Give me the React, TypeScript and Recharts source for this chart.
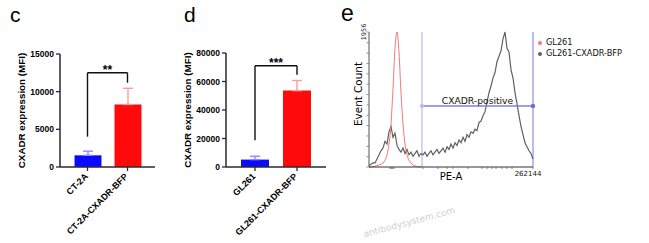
import React from "react"
import {
  BarChart,
  Bar,
  XAxis,
  YAxis,
  ErrorBar,
  ReferenceLine,
  ReferenceDot,
  LineChart,
  Line,
  Legend,
} from "recharts"

const ARIAL = "'Liberation Sans', Arial, Helvetica, sans-serif"
const DEJAVU = "'DejaVu Sans', Verdana, sans-serif"
const AXIS = "#2a2a2a"

// panel c: CT-2A
const ctCategories = ["CT-2A", "CT-2A-CXADR-BFP"]
const ctMeans = [1550, 8300]
const ctErrors = [550, 2150]
const ctTicks = [0, 5000, 10000, 15000]
const ctBracket = { left: 4030, top: 12520, right: 11190 }

// panel d: GL261
const glCategories = ["GL261", "GL261-CXADR-BFP"]
const glMeans = [5200, 53600]
const glErrors = [2350, 7100]
const glTicks = [0, 20000, 40000, 60000, 80000]
const glBracket = { left: 18850, top: 71100, right: 64750 }

const barFills = ["#0a0aff", "#ff0a0a"]
const errColors = ["#8c8cff", "#ff9c9c"]

// panel e: PE-A histogram, event counts per bin
const gl261Counts = [0, 0, 6, 10, 20, 29, 39, 59, 98, 176, 333, 626, 1134, 1721, 1956, 1663, 1076, 626, 333, 176, 98, 59, 29, 16, 8, 4, 0]
const cxadrCounts = [
  20, 39, 59, 59, 117, 176, 235, 274, 372, 333,
  509, 587, 430, 489, 313, 254, 215, 274, 196, 254,
  176, 215, 156, 196, 235, 156, 196, 176, 215, 156,
  196, 235, 176, 215, 254, 196, 235, 274, 215, 293,
  254, 333, 274, 352, 313, 391, 352, 430, 372, 469,
  430, 509, 489, 548, 528, 645, 665, 743, 802, 939,
  1076, 1174, 1291, 1369, 1526, 1604, 1682, 1858, 1956, 1721,
  1663, 1408, 1291, 1076, 919, 743, 587, 469, 352, 293,
  235, 196, 117,
]
const countTicks = [0, 150, 300, 450, 600, 750, 900, 1050, 1200, 1350, 1500, 1650, 1800, 1956]
const peTicks = [10.5, 11, 11.5, 12, 12.5, 27, 34.5, 39, 42, 49.5, 56.5, 59, 61.5, 63.5, 66.5, 69, 71.5, 82]
const peMaxLabel = "262144"
const gate = { start: 26.5, end: 82, level: 884, label: "CXADR-positive" }

function barRows(categories: string[], means: number[], errors: number[]) {
  return categories.map((name, i) => ({
    name,
    v0: i === 0 ? means[i] : null,
    e0: i === 0 ? [0, errors[i]] : null,
    v1: i === 1 ? means[i] : null,
    e1: i === 1 ? [0, errors[i]] : null,
  }))
}

function YTitle({ viewBox, value, dx = 0, dy = 0, size, family, weight }: any) {
  const vb = viewBox ?? { x: 0, y: 0, width: 0, height: 0 }
  const cx = vb.x + dx
  const cy = vb.y + vb.height / 2 + dy
  return (
    <text
      x={cx}
      y={cy}
      transform={`rotate(-90, ${cx}, ${cy})`}
      textAnchor="middle"
      dominantBaseline="central"
      fontSize={size}
      fontFamily={family}
      fontWeight={weight}
      fill="#000"
    >
      {value}
    </text>
  )
}

function XTitle({ viewBox, value, dy = 0, size, family }: any) {
  const vb = viewBox ?? { x: 0, y: 0, width: 0, height: 0 }
  return (
    <text x={vb.x + vb.width / 2} y={vb.y + dy} textAnchor="middle" fontSize={size} fontFamily={family} fill="#000">
      {value}
    </text>
  )
}

function SlantTick({ x, y, payload }: any) {
  const ax = x + 1
  const ay = y + 4
  return (
    <text
      x={ax}
      y={ay}
      transform={`rotate(-45, ${ax}, ${ay})`}
      textAnchor="end"
      fontSize={9}
      fontWeight={700}
      fontFamily={ARIAL}
      fill="#000"
    >
      {payload.value}
    </text>
  )
}

function SigBarPanel({ categories, means, errors, ticks, bracket, stars, left, margin, pad, barSize }: any) {
  const data = barRows(categories, means, errors)
  const top = ticks[ticks.length - 1]
  const line = { stroke: "#111", strokeWidth: 1.4 }
  return (
    <div style={{ position: "absolute", left, top: 0 }}>
      <BarChart width={170} height={243} data={data} margin={margin}>
        <XAxis
          dataKey="name"
          interval={0}
          padding={{ left: pad, right: pad }}
          height={60}
          tickSize={4}
          tick={<SlantTick />}
          tickLine={{ stroke: AXIS, strokeWidth: 1.3 }}
          axisLine={{ stroke: AXIS, strokeWidth: 1.5 }}
        />
        <XAxis xAxisId="b" dataKey="name" hide padding={{ left: pad, right: pad }} />
        <YAxis
          domain={[0, top]}
          ticks={ticks}
          interval={0}
          width={50}
          tickSize={4}
          tickMargin={2}
          tick={{ fontSize: 8.5, fontWeight: 700, fill: "#000", fontFamily: ARIAL }}
          tickLine={{ stroke: AXIS, strokeWidth: 1.3 }}
          axisLine={{ stroke: AXIS, strokeWidth: 1.5 }}
          label={<YTitle value="CXADR expression (MFI)" dx={11} size={9.8} family={ARIAL} weight={700} />}
        />
        <Bar dataKey="v0" barSize={barSize} fill={barFills[0]} isAnimationActive={false}>
          <ErrorBar dataKey="e0" direction="y" width={5} stroke={errColors[0]} strokeWidth={1.4} isAnimationActive={false} />
        </Bar>
        <Bar dataKey="v1" xAxisId="b" barSize={barSize} fill={barFills[1]} isAnimationActive={false}>
          <ErrorBar dataKey="e1" direction="y" width={5} stroke={errColors[1]} strokeWidth={1.4} isAnimationActive={false} />
        </Bar>
        <ReferenceLine
          segment={[{ x: categories[0], y: bracket.left }, { x: categories[0], y: bracket.top }]}
          {...line}
        />
        <ReferenceLine
          segment={[{ x: categories[0], y: bracket.top }, { x: categories[1], y: bracket.top }]}
          {...line}
          label={{ value: stars, position: "top", offset: -1, fontSize: 12, fontWeight: 700, fill: "#000", fontFamily: ARIAL }}
        />
        <ReferenceLine
          segment={[{ x: categories[1], y: bracket.top }, { x: categories[1], y: bracket.right }]}
          {...line}
        />
      </BarChart>
    </div>
  )
}

function CountTick({ x, y, payload }: any) {
  if (payload.value !== countTicks[countTicks.length - 1]) return <g />
  const ax = x + 1.5
  return (
    <text x={ax} y={y} transform={`rotate(-90, ${ax}, ${y})`} textAnchor="middle" fontSize={6.5} fontFamily={DEJAVU} fill="#222">
      {payload.value}
    </text>
  )
}

function PeTick({ x, y, payload }: any) {
  if (payload.value !== peTicks[peTicks.length - 1]) return <g />
  return (
    <text x={x - 5} y={y + 6} textAnchor="middle" fontSize={7} fontFamily={DEJAVU} fill="#111">
      {peMaxLabel}
    </text>
  )
}

function HistogramPanel() {
  const rows = cxadrCounts.map((c, i) => ({
    bin: i,
    cxadr: c,
    gl261: i < gl261Counts.length ? gl261Counts[i] : null,
  }))
  return (
    <div style={{ position: "absolute", left: 340, top: 0 }}>
      <LineChart width={309} height={243} data={rows} margin={{ top: 32, right: 116, bottom: 16, left: 9 }}>
        <XAxis
          dataKey="bin"
          type="number"
          domain={[0, 82]}
          ticks={peTicks}
          interval={0}
          height={60}
          tickSize={2}
          tickMargin={1}
          tick={<PeTick />}
          tickLine={{ stroke: "#666", strokeWidth: 0.8 }}
          axisLine={{ stroke: "#333", strokeWidth: 1 }}
          label={<XTitle value="PE-A" dy={13} size={10} family={DEJAVU} />}
        />
        <YAxis
          type="number"
          domain={[0, 1956]}
          ticks={countTicks}
          interval={0}
          width={20}
          tickSize={2.5}
          tickMargin={2}
          tick={<CountTick />}
          tickLine={{ stroke: "#777", strokeWidth: 0.8 }}
          axisLine={{ stroke: "#555", strokeWidth: 1 }}
          label={<YTitle value="Event Count" dx={9} dy={-5.5} size={10.4} family={DEJAVU} weight={400} />}
        />
        <ReferenceLine x={gate.start} stroke="#a9a9f2" strokeWidth={1} />
        <ReferenceLine x={gate.end} stroke="#8f8fe8" strokeWidth={1.2} />
        <Line
          dataKey="cxadr"
          name="GL261-CXADR-BFP"
          type="linear"
          stroke="#606060"
          strokeWidth={1.2}
          dot={false}
          isAnimationActive={false}
        />
        <Line
          dataKey="gl261"
          name="GL261"
          type="monotone"
          stroke="#f27878"
          strokeWidth={1}
          dot={false}
          isAnimationActive={false}
        />
        <ReferenceLine
          segment={[{ x: gate.start, y: gate.level }, { x: gate.end, y: gate.level }]}
          stroke="#7f7fe0"
          strokeWidth={1.3}
          label={{ value: gate.label, position: "top", offset: 2, fontSize: 9.2, fill: "#111", fontFamily: DEJAVU }}
        />
        <ReferenceDot x={gate.start} y={gate.level} r={2} fill="#b4b4f4" stroke="none" />
        <ReferenceDot x={gate.end} y={gate.level} r={2.2} fill="#6b6bdc" stroke="none" />
        <Legend
          layout="vertical"
          align="center"
          verticalAlign="middle"
          iconType="circle"
          iconSize={4}
          wrapperStyle={{ left: 198, top: 37, width: 110, fontSize: 8.2, fontFamily: DEJAVU, lineHeight: "11px" }}
          formatter={(v: string) => <span style={{ color: "#111" }}>{v}</span>}
        />
      </LineChart>
    </div>
  )
}

export default function App() {
  return (
    <div style={{ position: "absolute", left: 0, top: 0, width: 649, height: 243, background: "#fff", overflow: "hidden" }}>
      <SigBarPanel
        categories={ctCategories}
        means={ctMeans}
        errors={ctErrors}
        ticks={ctTicks}
        bracket={ctBracket}
        stars="**"
        left={0}
        margin={{ top: 54, right: 15, bottom: 16, left: 10 }}
        pad={7.5}
        barSize={27}
      />
      <SigBarPanel
        categories={glCategories}
        means={glMeans}
        errors={glErrors}
        ticks={glTicks}
        bracket={glBracket}
        stars="***"
        left={170}
        margin={{ top: 53, right: 14, bottom: 16, left: 6 }}
        pad={8}
        barSize={28}
      />
      <HistogramPanel />
      <svg width={649} height={243} style={{ position: "absolute", left: 0, top: 0, pointerEvents: "none" }}>
        <text x={10} y={21.5} fontSize={21} fontFamily={ARIAL} fill="#000">c</text>
        <text x={184} y={22} fontSize={21} fontFamily={ARIAL} fill="#000">d</text>
        <text x={341} y={21} fontSize={23} fontFamily={ARIAL} fill="#000">e</text>
        <text
          x={410}
          y={225}
          transform="rotate(-15, 410, 225)"
          textAnchor="middle"
          fontSize={9}
          fontFamily={DEJAVU}
          fill="#cfcfcf"
        >
          antibodysystem.com
        </text>
      </svg>
    </div>
  )
}
